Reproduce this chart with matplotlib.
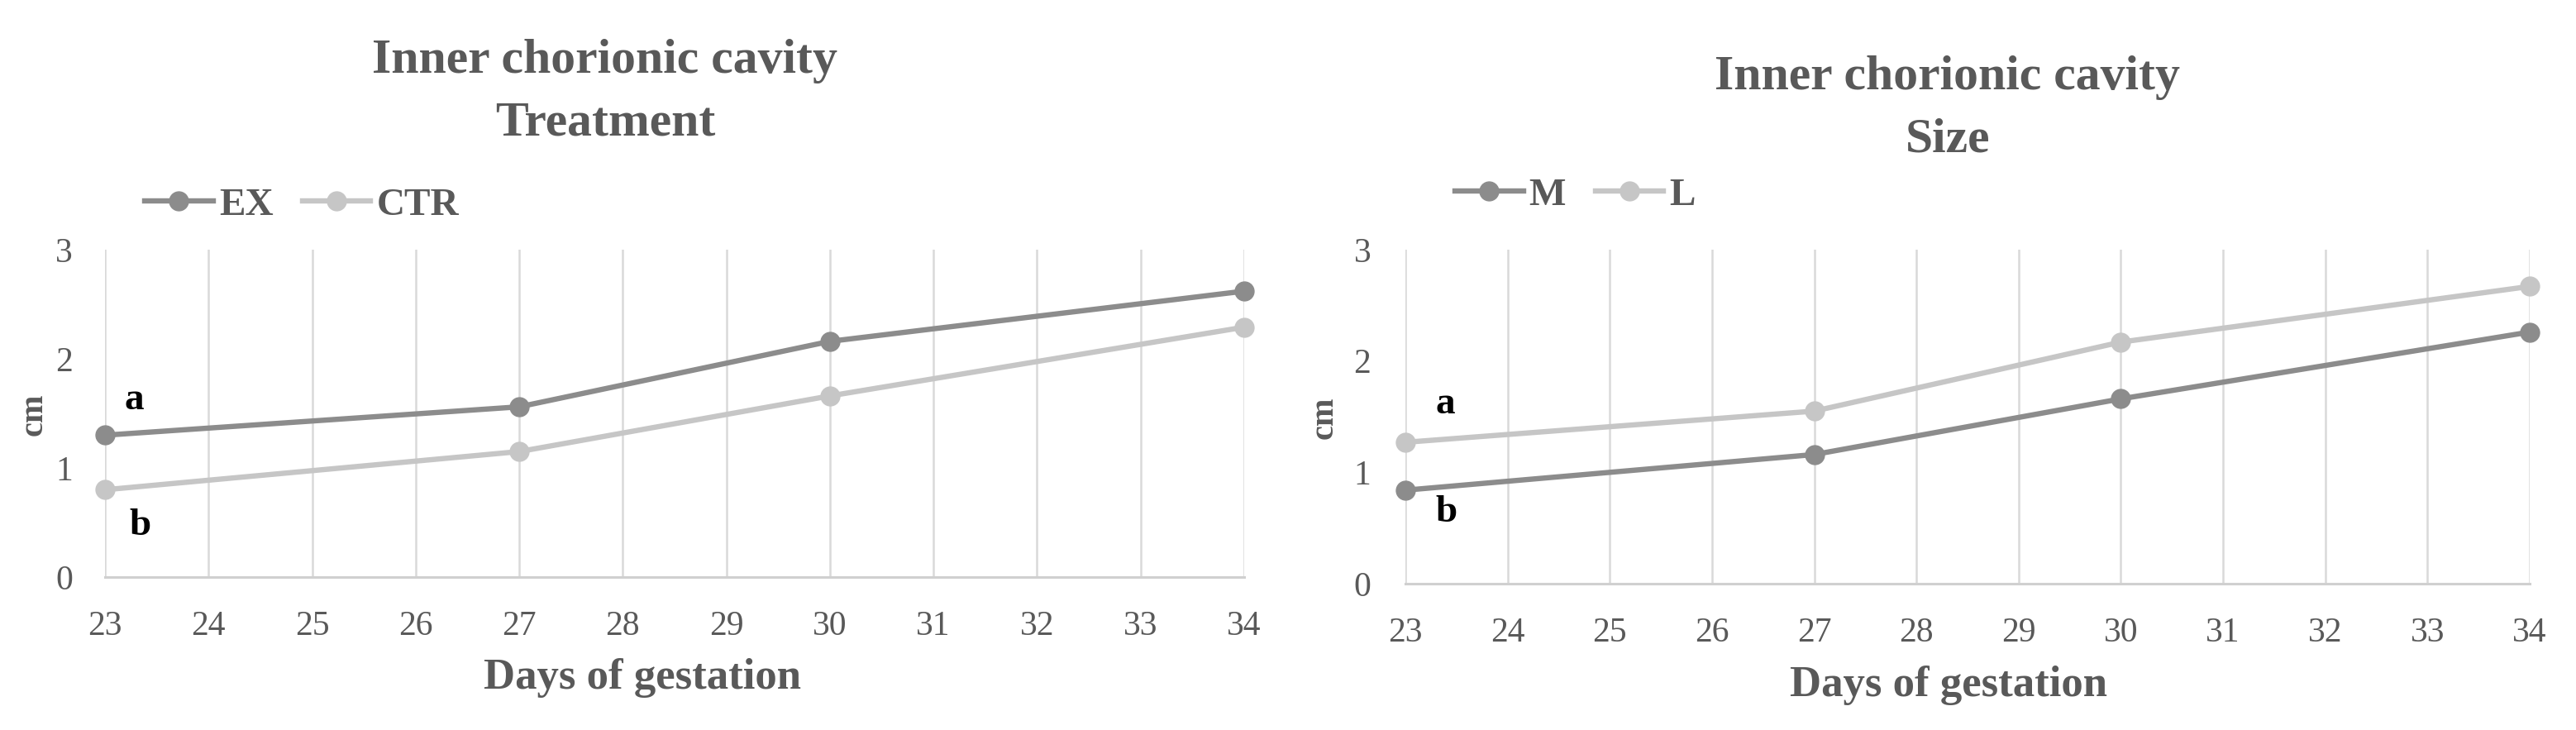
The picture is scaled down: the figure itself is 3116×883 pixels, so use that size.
import matplotlib
matplotlib.use("Agg")
import matplotlib.pyplot as plt

plt.rcParams['font.family'] = ['Liberation Serif', 'DejaVu Serif']

days = list(range(23, 35))
x_meas = [23, 27, 30, 34]

ex_vals = [1.30, 1.56, 2.16, 2.62]
ctr_vals = [0.80, 1.15, 1.66, 2.29]
m_vals = [0.84, 1.16, 1.66, 2.26]
l_vals = [1.27, 1.55, 2.17, 2.67]

y_ticks = [0, 1, 2, 3]

title_main = "Inner chorionic cavity"
left_sub = "Treatment"
right_sub = "Size"
xlabel = "Days of gestation"
ylabel = "cm"

DARK = "#8c8c8c"
LIGHT = "#c6c6c6"
TXT = "#595959"
GRID = "#d9d9d9"

W, H = 3116, 883
fig = plt.figure(figsize=(W / 100, H / 100), dpi=100)


def fx(px):
    return px / W


def fy(py):
    return 1 - py / H


def make_axes(x0, x1, ytop, ybot, ypad):
    ax = fig.add_axes([fx(x0), fy(ybot), fx(x1) - fx(x0), fy(ytop) - fy(ybot)])
    ax.set_xlim(23, 34)
    ax.set_ylim(0, 3)
    ax.set_xticks(days)
    ax.set_yticks(y_ticks)
    ax.grid(axis='x', color=GRID, linewidth=1.8)
    ax.set_axisbelow(True)
    for s in ['top', 'right', 'left']:
        ax.spines[s].set_visible(False)
    ax.spines['bottom'].set_color('#d0d0d0')
    ax.spines['bottom'].set_linewidth(2.2)
    ax.tick_params(axis='both', length=0, labelsize=30, labelcolor=TXT)
    ax.tick_params(axis='x', pad=29)
    ax.tick_params(axis='y', pad=ypad)
    return ax


def plot_series(ax, vals, color, label):
    ax.plot(x_meas, vals, color=color, linewidth=4.6, marker='o', markersize=16.5,
            markerfacecolor=color, markeredgecolor=color, label=label, clip_on=False, zorder=3)


# Left panel
axL = make_axes(127, 1505, 302, 698, 28)
plot_series(axL, ex_vals, DARK, "EX")
plot_series(axL, ctr_vals, LIGHT, "CTR")
axL.text(23.28, 1.54, "a", fontsize=34, fontweight='bold', color='black', ha='center', va='baseline')
axL.text(23.34, 0.39, "b", fontsize=34, fontweight='bold', color='black', ha='center', va='baseline')

# Right panel
axR = make_axes(1700, 3060, 302, 706, 30)
plot_series(axR, m_vals, DARK, "M")
plot_series(axR, l_vals, LIGHT, "L")
axR.text(23.39, 1.53, "a", fontsize=34, fontweight='bold', color='black', ha='center', va='baseline')
axR.text(23.40, 0.56, "b", fontsize=34, fontweight='bold', color='black', ha='center', va='baseline')

# Titles
fig.text(fx(732), fy(88), title_main, fontsize=43, fontweight='bold', color=TXT, ha='center', va='baseline')
fig.text(fx(732), fy(163), left_sub, fontsize=43, fontweight='bold', color=TXT, ha='center', va='baseline')
fig.text(fx(2356), fy(108), title_main, fontsize=43, fontweight='bold', color=TXT, ha='center', va='baseline')
fig.text(fx(2356), fy(183), right_sub, fontsize=43, fontweight='bold', color=TXT, ha='center', va='baseline')

# Axis labels
fig.text(fx(777), fy(833), xlabel, fontsize=38, fontweight='bold', color=TXT, ha='center', va='baseline')
fig.text(fx(2357), fy(842), xlabel, fontsize=38, fontweight='bold', color=TXT, ha='center', va='baseline')
fig.text(fx(41), fy(501), ylabel, fontsize=29, fontweight='bold', color=TXT, ha='center', va='center', rotation=90)
fig.text(fx(1602), fy(505), ylabel, fontsize=29, fontweight='bold', color=TXT, ha='center', va='center', rotation=90)

# Legends
legkw = dict(frameon=False, fontsize=34, handlelength=1.75, handletextpad=0.15,
             columnspacing=0.75, borderpad=0, borderaxespad=0, ncol=2, loc='center left')
legL = axL.legend(bbox_to_anchor=(fx(175), fy(248)), bbox_transform=fig.transFigure, **legkw)
legR = axR.legend(bbox_to_anchor=(fx(1760), fy(236)), bbox_transform=fig.transFigure, **legkw)
for leg in (legL, legR):
    for t in leg.get_texts():
        t.set_color(TXT)
        t.set_fontweight('bold')

fig.savefig("out.png", dpi=100, facecolor='white')
